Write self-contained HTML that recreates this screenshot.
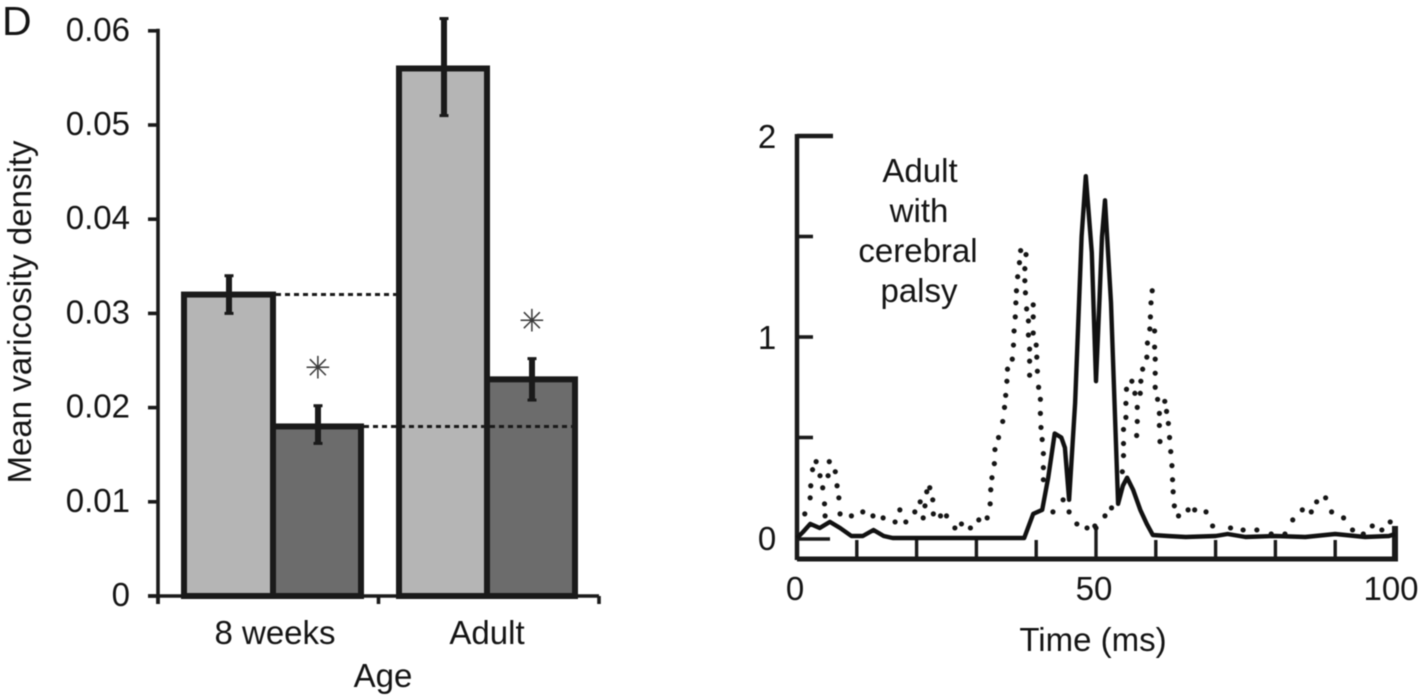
<!DOCTYPE html>
<html lang="en">
<head>
<meta charset="utf-8">
<title>Varicosity density and adult cerebral palsy trace</title>
<style>
html,body{margin:0;padding:0;background:#fff;width:1422px;height:700px;overflow:hidden}
svg{display:block}
text{font-family:"Liberation Sans",sans-serif;font-size:33px;fill:#141414}
#figure{filter:blur(.5px)}
</style>
</head>
<body>
<svg id="figure" xmlns="http://www.w3.org/2000/svg" width="1422" height="700" viewBox="0 0 1422 700">
  <text x="2" y="35" style="font-size:41px">D</text>
  <text transform="translate(31,312) rotate(-90)" text-anchor="middle">Mean varicosity density</text>
  <text x="383" y="687" text-anchor="middle">Age</text>
  <text x="1093" y="651" text-anchor="middle">Time (ms)</text>
  <g>
    <text x="920" y="182" text-anchor="middle">Adult</text>
    <text x="919" y="222" text-anchor="middle">with</text>
    <text x="918" y="262" text-anchor="middle">cerebral</text>
    <text x="919" y="302" text-anchor="middle">palsy</text>
  </g>
  <g id="bars"></g>
  <g id="trace"></g>
</svg>
<script>
// Bar chart data
const barCategories = ['8 weeks', 'Adult'];
const lightValues = [0.032, 0.056];
const darkValues = [0.018, 0.023];
const lightLow = [0.030, 0.051];
const lightHigh = [0.034, 0.0613];
const darkLow = [0.0162, 0.0208];
const darkHigh = [0.0202, 0.0252];
const barTicks = [0, 0.01, 0.02, 0.03, 0.04, 0.05, 0.06];
const barTickLabels = ['0', '0.01', '0.02', '0.03', '0.04', '0.05', '0.06'];

// Trace data
const solidTimes = [0,1,2.2,3.8,5.5,7.2,9.1,11,12.8,14.5,16,20,25,30,35,38,39.5,41,42,43.1,44.2,44.8,45.5,46.5,47,47.6,48.3,49.3,50,50.6,51,51.5,52.5,53.7,54.5,55.2,56.2,57.4,58.5,59.5,62,65,70,72,75,80,85,90,95,99,100];
const solidValues = [0,.03,.07,.05,.08,.05,.01,.01,.04,.01,0,0,0,0,0,0,.12,.14,.3,.52,.5,.45,.19,.67,1.05,1.5,1.8,1.42,.78,1.2,1.5,1.68,1.17,.17,.26,.3,.24,.14,.07,.015,.01,.005,.01,.02,.005,.01,.005,.02,.005,.01,.02];
const dotTimes = [1.3,2.2,2.3,2.6,3.2,3.85,4.3,4.6,4.7,5.4,5.2,6.4,6.7,7,7.2,9.1,11,12.7,14.4,16.4,18.2,17.2,19.7,20.6,21.4,21.1,21.7,22.2,22.7,22.8,24,25,26.4,27.5,29,30.4,31.8,32.3,32.4,32.6,33,33.1,33.7,34.4,34.7,34.9,35.1,35.2,36,36.2,36.3,36.5,36.6,36.7,36.9,37.2,37.4,38.3,38.1,38.1,38.2,38.4,38.7,38.7,38.9,38.9,38.9,39.5,39.5,39.5,40,40.1,40.2,40.4,40.7,40.7,40.8,41,41.2,41.2,41.2,42.8,44.5,45.5,46.8,48.5,49.8,50,51.5,52.6,54.4,54.6,54.6,54.6,55,55,55.1,56,56.5,56.9,56.9,56.8,57.5,57.4,57.8,58.5,58.6,59,59.1,59.2,59.4,59.8,59.8,59.9,59.9,59.9,60.3,60.6,60.6,60.7,61.5,61.8,62.1,62.3,62.5,62.7,62.8,62.9,63.1,63.8,65.4,66.5,68.4,69.5,72.5,74.6,76.9,79.3,81.6,82.9,84.5,86,86.9,88.4,89.4,91.4,92.9,94.7,96.2,97.8,99.2];
const dotValues = [.12,.2,.26,.34,.38,.31,.25,.17,.11,.38,.31,.33,.26,.2,.12,.11,.13,.11,.1,.08,.08,.14,.13,.18,.16,.1,.23,.25,.19,.12,.11,.11,.05,.07,.05,.09,.1,.17,.24,.3,.37,.44,.5,.58,.65,.71,.78,.84,.89,.96,1.03,1.1,1.17,1.23,1.3,1.37,1.43,1.41,1.34,1.28,1.22,1.14,1.08,1.01,.94,.88,.81,1.16,1.1,1.02,.96,.9,.83,.75,.69,.62,.55,.49,.42,.35,.29,.13,.19,.13,.07,.05,.06,.05,.11,.15,.33,.41,.47,.54,.6,.67,.74,.78,.72,.65,.58,.51,.78,.72,.84,.9,.97,1.04,1.1,1.17,1.23,1.03,.95,.89,.82,.75,.69,.62,.56,.48,.68,.63,.57,.5,.43,.36,.29,.23,.16,.11,.14,.14,.13,.06,.05,.04,.04,.02,.02,.09,.14,.13,.18,.2,.13,.1,.04,.02,.06,.04,.08];
const traceYTicks = [0, 0.5, 1, 1.5, 2];
const traceYLabels = ['0', '', '1', '', '2'];
const traceXTicks = [0, 10, 20, 30, 40, 50, 60, 70, 80, 90, 100];
const traceXLabels = ['0', '', '', '', '', '50', '', '', '', '', '100'];

const NS = 'http://www.w3.org/2000/svg';
const INK = '#1a1a1a';
function make(tag, parent, attrs, content) {
  const el = document.createElementNS(NS, tag);
  for (const k in attrs) el.setAttribute(k, attrs[k]);
  if (content !== undefined) el.textContent = content;
  parent.appendChild(el);
  return el;
}

// Bar chart axis functions
const barY = v => 596 - v * 9420;
const groupX = i => 158 + i * 220.5;
const lightBarX = i => 184 + i * 215;
const darkBarX = i => 273 + i * 214;
const barWidth = 88;

const bars = document.getElementById('bars');



barCategories.forEach((cat, i) => {
  const light = make('rect', bars, {x: lightBarX(i), y: barY(lightValues[i]), width: barWidth + (i ? 0 : 1), height: barY(0) - barY(lightValues[i]), fill: '#b5b5b5', stroke: INK, 'stroke-width': 6});
  
  
  const dark = make('rect', bars, {x: darkBarX(i), y: barY(darkValues[i]), width: barWidth, height: barY(0) - barY(darkValues[i]), fill: '#6c6c6c', stroke: INK, 'stroke-width': 6});
  
  
  const label = make('text', bars, {x: i ? 487 : 275, y: 644, 'text-anchor': 'middle'}, cat);
  
  
});

// Reference dashed lines
const refLight = make('line', bars, {x1: lightBarX(0) + barWidth + 4, x2: lightBarX(1) - 3, y1: barY(lightValues[0]), y2: barY(lightValues[0]), stroke: INK, 'stroke-width': 3, 'stroke-dasharray': '5 4'});


const refDark = make('line', bars, {x1: darkBarX(0) + barWidth + 3, x2: darkBarX(1) + barWidth - 3, y1: barY(darkValues[0]), y2: barY(darkValues[0]), stroke: INK, 'stroke-width': 3, 'stroke-dasharray': '5 4'});



// Error bars and significance marks
barCategories.forEach((cat, i) => {
  [[lightBarX(i), lightLow[i], lightHigh[i], 'light'], [darkBarX(i), darkLow[i], darkHigh[i], 'dark']].forEach(([x, lo, hi, kind]) => {
    const cx = x + barWidth / 2 + 1;
    const err = make('line', bars, {x1: cx, x2: cx, y1: barY(lo), y2: barY(hi), stroke: INK, 'stroke-width': 6});
    
    
    const capA = make('line', bars, {x1: cx - 4.5, x2: cx + 4.5, y1: barY(lo), y2: barY(lo), stroke: INK, 'stroke-width': 3});
    
    
    const capB = make('line', bars, {x1: cx - 4.5, x2: cx + 4.5, y1: barY(hi), y2: barY(hi), stroke: INK, 'stroke-width': 3});
    
    
  });
  const star = make('text', bars, {x: darkBarX(i) + barWidth / 2 + 1, y: barY(darkHigh[i]) - 27, 'text-anchor': 'middle', style: 'font-family:\'DejaVu Sans\',sans-serif;font-size:31px;fill:#3a3a3a'}, '\u2733');
  
  
});

// Bar chart axes
const barYAxis = make('line', bars, {x1: 158, x2: 158, y1: barY(0.06) - 2, y2: barY(0) + 8, stroke: INK, 'stroke-width': 3.6});


const barXAxis = make('line', bars, {x1: 148, x2: 599, y1: barY(0), y2: barY(0), stroke: INK, 'stroke-width': 3.6});


[0, 1, 2].forEach(i => {
  const t = make('line', bars, {x1: groupX(i), x2: groupX(i), y1: barY(0), y2: barY(0) + 8, stroke: INK, 'stroke-width': 3.6});
  
  
});
barTicks.forEach((v, i) => {
  const t = make('line', bars, {x1: 148, x2: 158, y1: barY(v), y2: barY(v), stroke: INK, 'stroke-width': 3.6});
  
  
  const l = make('text', bars, {x: 130, y: barY(v) + 10, 'text-anchor': 'end'}, barTickLabels[i]);
  
  
});

// Trace axis functions
const timeX = t => 797 + t * 5.98;
const ampY = v => 538 - v * 201;

const trace = document.getElementById('trace');



const traceYAxis = make('line', trace, {x1: timeX(0), x2: timeX(0), y1: ampY(2) - 2, y2: 560, stroke: INK, 'stroke-width': 4.5});


const traceXAxis = make('line', trace, {x1: timeX(0), x2: timeX(100) + 3, y1: 559, y2: 559, stroke: INK, 'stroke-width': 5});



traceYTicks.forEach((v, i) => {
  const len = v === 2 ? 36 : (v === 0 ? 33 : 16);
  const y = v === 0 ? ampY(v) + 1 : ampY(v);
  const t = make('line', trace, {x1: timeX(0), x2: timeX(0) + len, y1: y, y2: y, stroke: INK, 'stroke-width': v === 2 ? 4.5 : 3.6});
  
  
  if (traceYLabels[i]) {
    const l = make('text', trace, {x: 767, y: ampY(v) + 12, 'text-anchor': 'middle'}, traceYLabels[i]);
    
    
  }
});
traceXTicks.forEach((v, i) => {
  const t = make('line', trace, {x1: timeX(v), x2: timeX(v), y1: (v === 50 || v === 100) ? 526 : 540, y2: 559, stroke: INK, 'stroke-width': (v === 100 ? 6 : 3.4)});
  
  
  if (traceXLabels[i]) {
    const l = make('text', trace, {x: timeX(v) - (v === 100 ? 4 : 2), y: 600, 'text-anchor': 'middle'}, traceXLabels[i]);
    
    
  }
});

const solidPts = solidTimes.map((t, i) => timeX(t).toFixed(1) + ',' + ampY(solidValues[i]).toFixed(1)).join(' ');
const solidLine = make('polyline', trace, {points: solidPts, fill: 'none', stroke: '#111', 'stroke-width': 4.4, 'stroke-linejoin': 'round'});



dotTimes.forEach((t, i) => {
  const dot = make('circle', trace, {cx: timeX(t), cy: ampY(dotValues[i]), r: 2.6, fill: '#151515'});
  
  
});
</script>
</body>
</html>
